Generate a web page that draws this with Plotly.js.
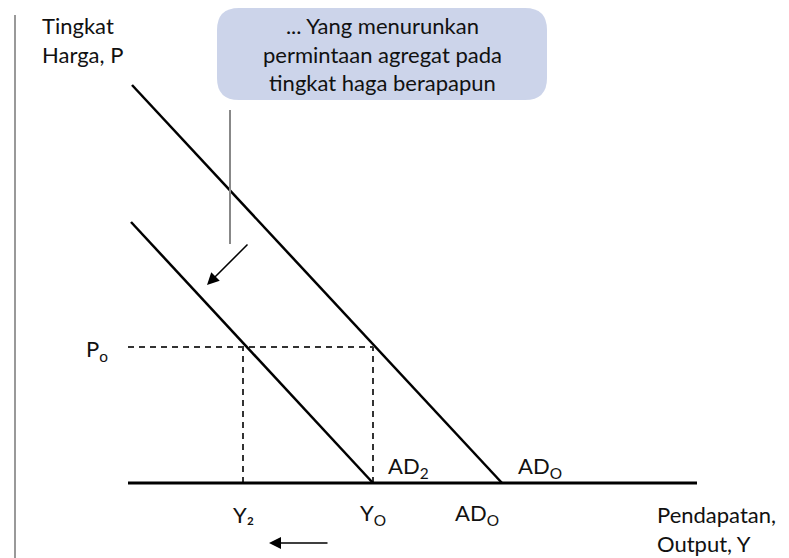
<!DOCTYPE html>
<html>
<head>
<meta charset="utf-8">
<script src="https://cdn.plot.ly/plotly-3.0.1.min.js"></script>
<style>html,body{margin:0;padding:0;background:#fff}#chart{width:789px;height:558px}</style>
</head>
<body>
<div id="chart"></div>
<script>
// Curves (Output Y, Price P) in chart units
const ad0Y = [4, 374];
const ad0P = [398, 0];
const ad2Y = [3, 245];
const ad2P = [261, 0];
const axisY = [0, 569];
const axisP = [0, 0];
const P0 = 136;
const Y0 = 245;
const Y2 = 115;

const labelAxisP = "Tingkat<br>Harga, P";
const labelAxisY = "Pendapatan,<br>Output, Y";
const calloutText = "... Yang menurunkan<br>permintaan agregat pada<br>tingkat haga berapapun";

const F = "Lato, 'Open Sans', sans-serif";
const fnt = {family: F, size: 22, color: "#111"};

const solid = (x, y, w) => ({x, y, mode: "lines", type: "scatter", line: {color: "#000", width: w}, hoverinfo: "skip", showlegend: false});
const dashed = (x, y) => ({x, y, mode: "lines", type: "scatter", line: {color: "#333", width: 2, dash: "6px,5px"}, hoverinfo: "skip", showlegend: false});

const data = [
  dashed([0, Y0], [P0, P0]),
  dashed([Y2, Y2], [0, P0]),
  dashed([Y0, Y0], [0, P0]),
  solid(axisY, axisP, 3),
  solid(ad0Y, ad0P, 2.5),
  solid(ad2Y, ad2P, 2.5),
  {x: [102, 102], y: [373, 239], mode: "lines", type: "scatter", line: {color: "#888", width: 2}, hoverinfo: "skip", showlegend: false}
];

// callout box (rounded)
const bx0 = 89, bx1 = 419, by0 = 383, by1 = 475, r = 22;
const boxPath = `M ${bx0 + r} ${by1} L ${bx1 - r} ${by1} Q ${bx1} ${by1} ${bx1} ${by1 - r} L ${bx1} ${by0 + r} Q ${bx1} ${by0} ${bx1 - r} ${by0} L ${bx0 + r} ${by0} Q ${bx0} ${by0} ${bx0} ${by0 + r} L ${bx0} ${by1 - r} Q ${bx0} ${by1} ${bx0 + r} ${by1} Z`;

const ann = (x, y, text, xa, ya, extra) => Object.assign({x, y, xref: "x", yref: "y", text, showarrow: false, xanchor: xa, yanchor: ya, font: fnt, align: "left"}, extra || {});

const layout = {
  width: 789, height: 558,
  margin: {l: 0, r: 0, t: 0, b: 0},
  paper_bgcolor: "#fff", plot_bgcolor: "#fff",
  xaxis: {range: [-128, 661], visible: false, fixedrange: true},
  yaxis: {range: [-75, 483], visible: false, fixedrange: true},
  shapes: [
    {type: "line", xref: "paper", yref: "paper", x0: 15/789, x1: 15/789, y0: 0, y1: 1 - 15/558, line: {color: "#999", width: 2}},
    {type: "path", xref: "x", yref: "y", path: boxPath, fillcolor: "#ccd4ea", line: {width: 0}, layer: "below"}
  ],
  annotations: [
    ann(-88, 473, labelAxisP, "left", "top"),
    ann((bx0 + bx1) / 2, (by0 + by1) / 2, calloutText, "center", "middle", {align: "center"}),
    ann(-31, 133, "P<sub>o</sub>", "center", "middle"),
    ann(258, 16, "AD<sub>2</sub>", "left", "middle"),
    ann(388, 16, "AD<sub>O</sub>", "left", "middle"),
    ann(Y2, -31, "Y₂", "center", "middle"),
    ann(Y0, -31, "Y<sub>O</sub>", "center", "middle"),
    ann(349, -31, "AD<sub>O</sub>", "center", "middle"),
    ann(527, -16, labelAxisY, "left", "top"),
    {x: 79, y: 198, ax: 121, ay: 240, xref: "x", yref: "y", axref: "x", ayref: "y", showarrow: true, arrowhead: 2, arrowsize: 1.6, arrowwidth: 1.5, arrowcolor: "#000", text: ""},
    {x: 141, y: -60, ax: 201, ay: -60, xref: "x", yref: "y", axref: "x", ayref: "y", showarrow: true, arrowhead: 2, arrowsize: 1.6, arrowwidth: 1.5, arrowcolor: "#000", text: ""}
  ]
};

Plotly.newPlot("chart", data, layout, {staticPlot: true, displayModeBar: false});
</script>
</body>
</html>
